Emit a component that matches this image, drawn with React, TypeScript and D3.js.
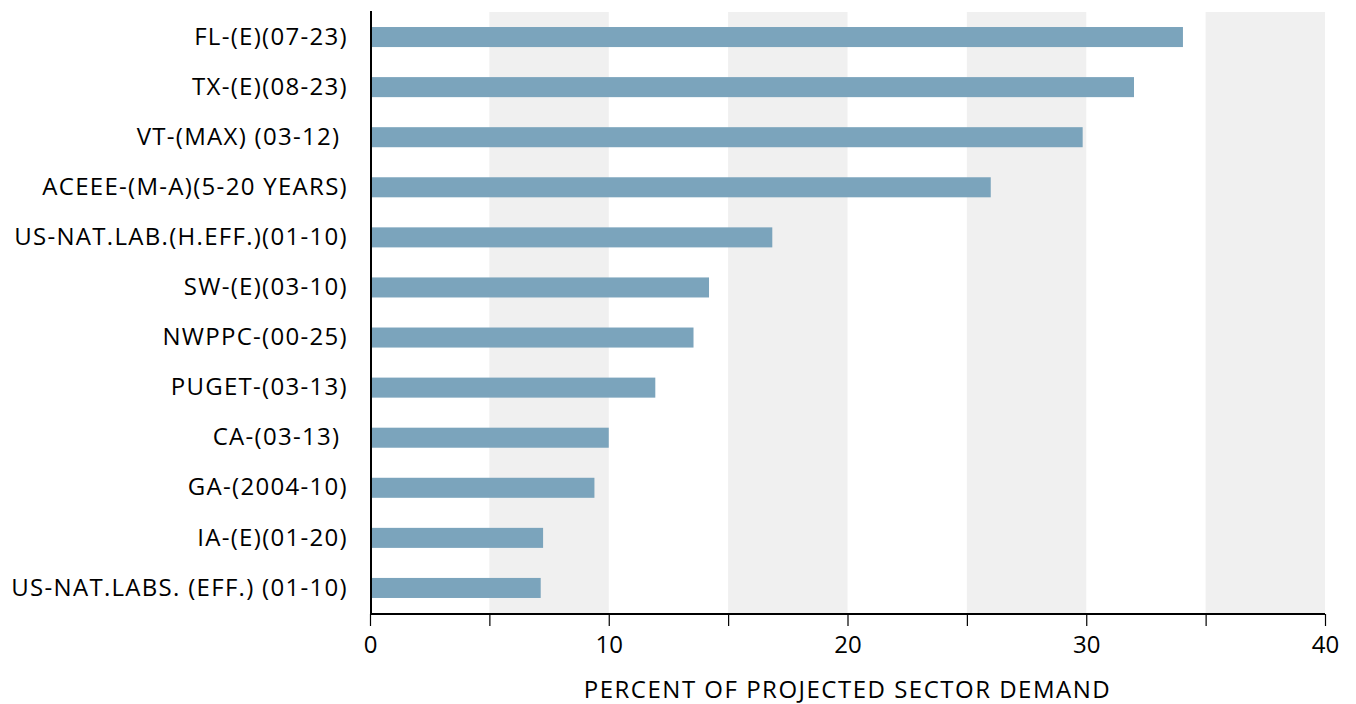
import React, { useEffect, useRef } from "react"
import * as d3 from "d3"

const categories = [
  "FL-(E)(07-23)",
  "TX-(E)(08-23)",
  "VT-(MAX) (03-12) ",
  "ACEEE-(M-A)(5-20 YEARS)",
  "US-NAT.LAB.(H.EFF.)(01-10)",
  "SW-(E)(03-10)",
  "NWPPC-(00-25)",
  "PUGET-(03-13)",
  "CA-(03-13) ",
  "GA-(2004-10)",
  "IA-(E)(01-20)",
  "US-NAT.LABS. (EFF.) (01-10)",
]
const values = [34.05, 32.0, 29.85, 26.0, 16.85, 14.2, 13.55, 11.95, 10.0, 9.4, 7.25, 7.15]
const xTicks = [0, 5, 10, 15, 20, 25, 30, 35, 40]
const xTickLabels = ["0", "", "10", "", "20", "", "30", "", "40"]
const shadedBands = [[5, 10], [15, 20], [25, 30], [35, 40]]

const width = 1356
const height = 704
const margin = { top: 12, right: 31, bottom: 91, left: 370 }
const font = "'Open Sans', 'Noto Sans', sans-serif"

export default function App() {
  const ref = useRef<SVGSVGElement>(null)

  useEffect(() => {
    const svg = d3.select(ref.current)
    svg.selectAll("*").remove()
    const x = d3
      .scaleLinear()
      .domain([0, 40])
      .range([margin.left, width - margin.right])
    const y = d3
      .scaleBand()
      .domain(categories)
      .range([margin.top, height - margin.bottom])
      .paddingInner(0.6)
      .paddingOuter(0.3)

    // background bands
    svg
      .append("g")
      .selectAll("rect")
      .data(shadedBands)
      .join("rect")
      .attr("x", (d) => x(d[0]))
      .attr("width", (d) => x(d[1]) - x(d[0]))
      .attr("y", margin.top)
      .attr("height", height - margin.bottom - margin.top)
      .attr("fill", "#f0f0f0")

    // bars
    svg
      .append("g")
      .selectAll("rect")
      .data(values)
      .join("rect")
      .attr("x", x(0))
      .attr("y", (d, i) => y(categories[i]))
      .attr("width", (d) => x(d) - x(0))
      .attr("height", y.bandwidth())
      .attr("fill", "#7ba4bc")

    // x axis
    const xAxis = svg
      .append("g")
      .attr("transform", `translate(0, ${height - margin.bottom + 1})`)
      .call(
        d3
          .axisBottom(x)
          .tickValues(xTicks)
          .tickSize(12)
          .tickFormat((d, i) => xTickLabels[i])
      )
    xAxis.select(".domain").attr("stroke", "#000").attr("stroke-width", 2).attr("d", `M${x(0)},0H${x(40)}`)
    xAxis.selectAll(".tick line").attr("stroke", "#000").attr("stroke-width", 1.2)
    xAxis
      .selectAll(".tick text")
      .attr("font-family", font)
      .style("font-size", "24px")
      .attr("fill", "#000")
      .attr("y", 22)
      .attr("dy", "0.71em")

    // y axis
    const yAxis = svg
      .append("g")
      .attr("transform", `translate(${margin.left + 1}, 0)`)
      .call(d3.axisLeft(y).tickSize(0).tickPadding(23))
    yAxis
      .select(".domain")
      .attr("stroke", "#000")
      .attr("stroke-width", 2)
      .attr("d", `M0,${margin.top - 1}V${height - margin.bottom + 1}`)
    yAxis
      .selectAll(".tick text")
      .attr("font-family", font)
      .style("font-size", "24px")
      .style("letter-spacing", "1.3px")
      .attr("fill", "#000")
      .style("white-space", "pre")

    svg
      .append("text")
      .attr("x", (x(0) + x(40)) / 2)
      .attr("y", 698)
      .attr("text-anchor", "middle")
      .attr("font-family", font)
      .style("font-size", "24px")
      .style("letter-spacing", "1.5px")
      .attr("fill", "#000")
      .text("PERCENT OF PROJECTED SECTOR DEMAND")
  }, [])

  return (
    <svg
      ref={ref}
      width={width}
      height={height}
      style={{ position: "absolute", left: 0, top: 0, background: "#fff" }}
    />
  )
}
